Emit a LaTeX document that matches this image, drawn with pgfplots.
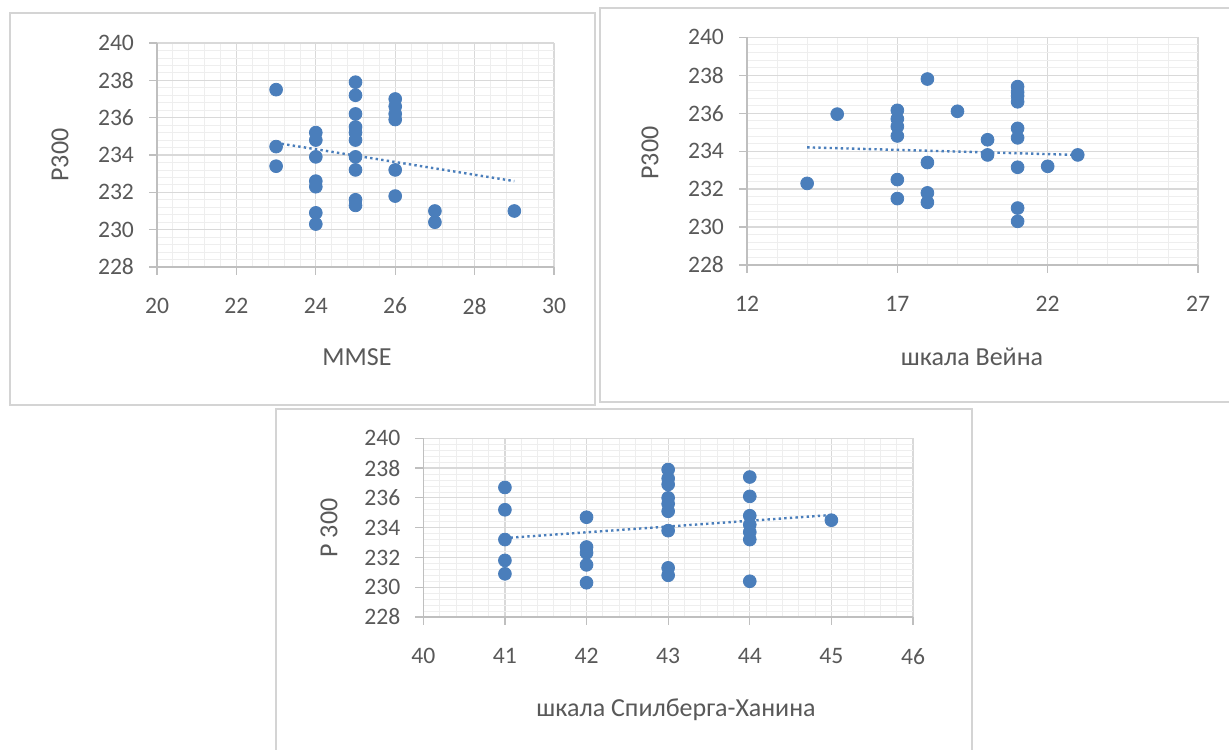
\documentclass[border=0pt]{standalone}
\usepackage{fontspec}
\setmainfont{Carlito}
\usepackage{pgfplots}
\pgfplotsset{compat=1.18}
\definecolor{dotblue}{HTML}{4A7EBB}
\definecolor{txtgray}{HTML}{595959}
\definecolor{gridmaj}{HTML}{D9D9D9}
\definecolor{gridmin}{HTML}{EEEEEE}
\definecolor{axgray}{HTML}{BFBFBF}
\definecolor{boxgray}{HTML}{D4D4D4}
\pgfplotsset{
  exstyle/.style={
    scale only axis,
    anchor=south west,
    axis lines=left,
    axis line style={-, color=axgray, line width=0.6pt},
    tick align=outside,
    major tick length=4pt,
    minor tick length=0pt,
    minor tick num=4,
    tick style={color=axgray, line width=0.6pt},
    grid=both,
    major grid style={color=gridmaj, line width=0.6pt},
    minor grid style={color=gridmin, line width=0.4pt},
    ticklabel style={font=\fontsize{11.8}{13}\selectfont, text=txtgray},
    /pgf/number format/assume math mode=true,
    yticklabel style={xshift=-4pt},
    xticklabel style={yshift=-8pt},
    ymin=228, ymax=240, ytick={228,230,...,240},
    clip=false,
  },
  dots/.style={only marks, mark=*, mark size=3.2pt, color=dotblue, mark options={fill=dotblue, draw=dotblue}},
  trend/.style={no marks, color=dotblue, line width=1.2pt, dash pattern=on 1.2pt off 1.6pt},
}
\begin{document}
\begin{tikzpicture}
\useasboundingbox (0,0) rectangle (614.5pt,374.5pt);
\fill[white] (0,0) rectangle (614.5pt,374.5pt);
\draw[boxgray, line width=0.8pt] (5pt,172pt) rectangle (297.5pt,368pt);
\draw[boxgray, line width=0.8pt] (300pt,173.5pt) rectangle (620pt,370.5pt);
\draw[boxgray, line width=0.8pt] (138pt,-5pt) rectangle (486pt,170pt);

% Panel 1: MMSE
\begin{axis}[exstyle, at={(78.5pt,241pt)}, width=198.5pt, height=112pt,
  xmin=20, xmax=30, xtick={20,22,...,30}]
\addplot[dots] coordinates {
 (23,237.5) (23,234.45) (23,233.4)
 (24,235.2) (24,234.8) (24,233.9) (24,232.6) (24,232.3) (24,230.9) (24,230.3)
 (25,237.9) (25,237.2) (25,236.2) (25,235.5) (25,235.2) (25,234.8) (25,233.9) (25,233.2) (25,231.6) (25,231.3)
 (26,237.0) (26,236.6) (26,236.2) (26,235.9) (26,233.2) (26,231.8)
 (27,231.0) (27,230.4)
 (29,231.0)
};
\addplot[trend] coordinates {(23,234.65) (29,232.6)};
\end{axis}

% Panel 2: scale Vein
\begin{axis}[exstyle, at={(373.5pt,242pt)}, width=225.5pt, height=113.85pt,
  xmin=12, xmax=27, xtick={12,17,22,27}]
\addplot[dots] coordinates {
 (14,232.3)
 (15,235.95)
 (17,236.15) (17,235.7) (17,235.3) (17,234.8) (17,232.5) (17,231.5)
 (18,237.8) (18,233.4) (18,231.8) (18,231.3)
 (19,236.1)
 (20,234.6) (20,233.8)
 (21,237.4) (21,237.1) (21,236.9) (21,236.6) (21,235.2) (21,234.7) (21,233.15) (21,231.0) (21,230.3)
 (22,233.2)
 (23,233.8)
};
\addplot[trend] coordinates {(14,234.2) (23,233.8)};
\end{axis}

% Panel 3: Spielberger-Khanin
\begin{axis}[exstyle, at={(211.65pt,66pt)}, width=244.85pt, height=89.35pt,
  xmin=40, xmax=46, xtick={40,41,...,46}]
\addplot[dots] coordinates {
 (41,236.7) (41,235.2) (41,233.2) (41,231.8) (41,230.9)
 (42,234.7) (42,232.7) (42,232.3) (42,231.5) (42,230.3)
 (43,237.9) (43,237.3) (43,236.9) (43,236.0) (43,235.6) (43,235.1) (43,233.8) (43,231.3) (43,230.8)
 (44,237.4) (44,236.1) (44,234.8) (44,234.2) (44,233.7) (44,233.2) (44,230.4)
 (45,234.5)
};
\addplot[trend] coordinates {(41,233.3) (45,234.85)};
\end{axis}

\begin{scope}[every node/.style={font=\fontsize{13}{15}\selectfont, text=txtgray, inner sep=0pt}]
\node at (178.5pt,196pt) {MMSE};
\node[rotate=90] at (30pt,297pt) {P300};
\node at (486pt,196pt) {шкала Вейна};
\node[rotate=90] at (325pt,298pt) {P300};
\node at (338pt,19.5pt) {шкала Спилберга-Ханина};
\node[rotate=90] at (164.5pt,110.5pt) {P 300};
\end{scope}
\end{tikzpicture}
\end{document}
